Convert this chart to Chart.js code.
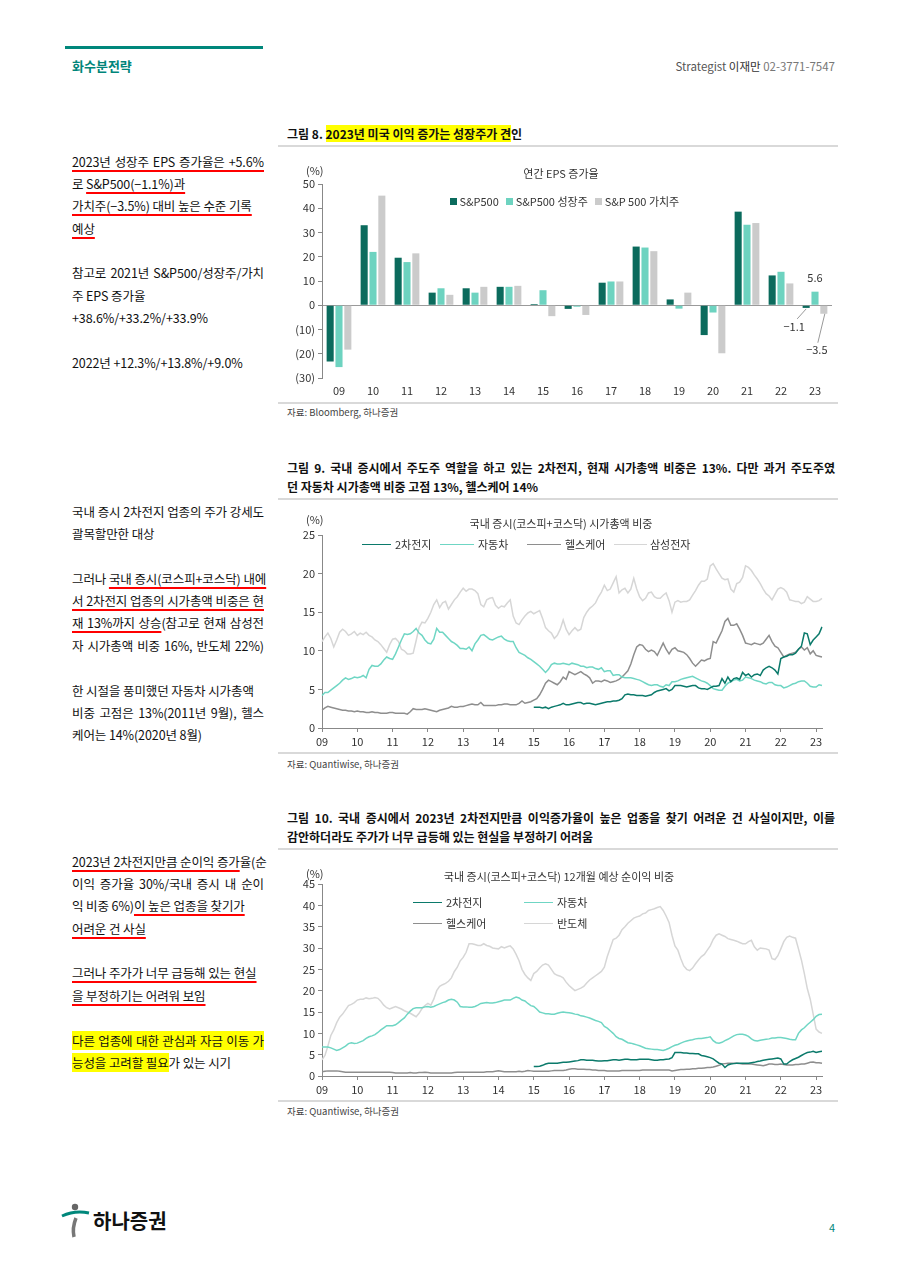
<!DOCTYPE html>
<html>
<head>
<meta charset="utf-8">
<script src="https://cdn.jsdelivr.net/npm/chart.js@4.4.0/dist/chart.umd.min.js"></script>
<style>
  body { margin: 0; background: #fff; }
  #page { position: relative; width: 900px; height: 1273px; background: #fff; overflow: hidden;
          font-family: 'Noto Sans CJK KR', sans-serif; color: #1a1a1a; }
  .a { position: absolute; white-space: nowrap; }
  .bar { position: absolute; background: #d9d9d9; }
  .ttl { font-size: 12px; font-weight: bold; line-height: 19px; color: #111; }
  .src { font-size: 9.5px; color: #444; }
  .ct { font-size: 11px; color: #333; transform: translateX(-50%); }
  .lg { font-size: 11px; color: #333; line-height: 14px; }
  .sq { display: inline-block; width: 7px; height: 7px; vertical-align: 1px; }
  .ln { position: absolute; height: 0; border-top: 1.6px solid; }
  .side { position: absolute; left: 72px; font-size: 12.5px; line-height: 22.4px; letter-spacing: -0.1px; color: #111; }
  .side div { white-space: nowrap; height: 22.4px; }
  .side .j { width: 192px; text-align: justify; text-align-last: justify; }
  .u { text-decoration: underline; text-decoration-color: #f00; text-decoration-thickness: 1.5px; text-underline-offset: 3px; }
  .h { background: #ffff00; }
  .box { position: absolute; }
</style>
</head>
<body>
<div id="page">
  <!-- header -->
  <div class="a" style="left:65px;top:46px;width:198px;height:3px;background:#00877b"></div>
  <div class="a" style="left:72px;top:57px;font-size:13px;font-weight:bold;color:#00857a;line-height:18px">화수분전략</div>
  <div class="a" style="right:65px;top:58px;font-size:11.5px;line-height:16px;color:#555">Strategist <span style="color:#333">이재만</span> <span style="color:#777">02-3771-7547</span></div>

  <!-- left notes -->
  <div class="side" style="top:150.5px">
    <div class="j"><span class="u">2023년 성장주 EPS 증가율은 +5.6%</span></div>
    <div>로 <span class="u">S&amp;P500(−1.1%)과</span></div>
    <div><span class="u">가치주(−3.5%) 대비 높은 수준 기록</span></div>
    <div><span class="u">예상</span></div>
    <div></div>
    <div class="j">참고로 2021년 S&amp;P500/성장주/가치</div>
    <div>주 EPS 증가율</div>
    <div>+38.6%/+33.2%/+33.9%</div>
    <div></div>
    <div>2022년 +12.3%/+13.8%/+9.0%</div>
  </div>
  <div class="side" style="top:500.5px">
    <div class="j">국내 증시 2차전지 업종의 주가 강세도</div>
    <div>괄목할만한 대상</div>
    <div></div>
    <div class="j">그러나 <span class="u">국내 증시(코스피+코스닥) 내에</span></div>
    <div class="j u">서 2차전지 업종의 시가총액 비중은 현</div>
    <div class="j"><span class="u">재 13%까지 상승</span>(참고로 현재 삼성전</div>
    <div class="j">자 시가총액 비중 16%, 반도체 22%)</div>
    <div></div>
    <div>한 시절을 풍미했던 자동차 시가총액</div>
    <div class="j">비중 고점은 13%(2011년 9월), 헬스</div>
    <div>케어는 14%(2020년 8월)</div>
  </div>
  <div class="side" style="top:850.5px">
    <div class="j"><span class="u">2023년 2차전지만큼 순이익 증가</span>율(순</div>
    <div class="j">이익 증가율 30%/국내 증시 내 순이</div>
    <div>익 비중 6%)<span class="u">이 높은 업종을 찾기가</span></div>
    <div><span class="u">어려운 건 사실</span></div>
    <div></div>
    <div><span class="u">그러나 주가가 너무 급등해 있는 현실</span></div>
    <div><span class="u">을 부정하기는 어려워 보임</span></div>
    <div></div>
    <div class="j"><span class="h">다른 업종에 대한 관심과 자금 이동 가</span></div>
    <div><span class="h">능성을 고려할 필요</span>가 있는 시기</div>
  </div>

  <!-- figure 8 -->
  <div class="a ttl" style="left:287px;top:124px">그림 8. <span class="h">2023년 미국 이익 증가는 성장주가 견</span>인</div>
  <div class="bar" style="left:278px;top:145px;width:560px;height:2px"></div>
  <div class="box" style="left:278px;top:150px;width:560px;height:252px"><canvas id="c8"></canvas></div>
  <div class="a lg" style="left:306px;top:163px">(%)</div>
  <div class="a ct" style="left:561px;top:165px">연간 EPS 증가율</div>
  <div class="a lg" style="left:450px;top:194px"><span class="sq" style="background:#0b6b5d"></span> S&amp;P500&nbsp;&nbsp; <span class="sq" style="background:#6dd3c0"></span> S&amp;P500 성장주&nbsp;&nbsp; <span class="sq" style="background:#cbcbcb"></span> S&amp;P 500 가치주</div>
  <div class="bar" style="left:278px;top:402px;width:560px;height:1.5px"></div>
  <div class="a src" style="left:287px;top:405px">자료: Bloomberg, 하나증권</div>

  <!-- figure 9 -->
  <div class="a ttl" style="left:287px;top:458px;width:548px;text-align:justify;text-align-last:justify">그림 9. 국내 증시에서 주도주 역할을 하고 있는 2차전지, 현재 시가총액 비중은 13%. 다만 과거 주도주였</div>
  <div class="a ttl" style="left:287px;top:477px">던 자동차 시가총액 비중 고점 13%, 헬스케어 14%</div>
  <div class="bar" style="left:278px;top:498px;width:560px;height:2px"></div>
  <div class="box" style="left:278px;top:505px;width:560px;height:247px"><canvas id="c9"></canvas></div>
  <div class="a lg" style="left:306px;top:512px">(%)</div>
  <div class="a ct" style="left:561px;top:515px">국내 증시(코스피+코스닥) 시가총액 비중</div>
  <div class="ln" style="left:362px;top:544px;width:29px;border-color:#0b7a6b"></div>
  <div class="a lg" style="left:395px;top:537px">2차전지</div>
  <div class="ln" style="left:440px;top:544px;width:34px;border-color:#6fd6c4"></div>
  <div class="a lg" style="left:478px;top:537px">자동차</div>
  <div class="ln" style="left:527px;top:544px;width:34px;border-color:#8e8e8e"></div>
  <div class="a lg" style="left:565px;top:537px">헬스케어</div>
  <div class="ln" style="left:614px;top:544px;width:33px;border-color:#d6d6d6"></div>
  <div class="a lg" style="left:650px;top:537px">삼성전자</div>
  <div class="bar" style="left:278px;top:752px;width:560px;height:1.5px"></div>
  <div class="a src" style="left:287px;top:757px">자료: Quantiwise, 하나증권</div>

  <!-- figure 10 -->
  <div class="a ttl" style="left:287px;top:808px;width:548px;text-align:justify;text-align-last:justify">그림 10. 국내 증시에서 2023년 2차전지만큼 이익증가율이 높은 업종을 찾기 어려운 건 사실이지만, 이를</div>
  <div class="a ttl" style="left:287px;top:827px">감안하더라도 주가가 너무 급등해 있는 현실을 부정하기 어려움</div>
  <div class="bar" style="left:278px;top:848px;width:560px;height:2px"></div>
  <div class="box" style="left:278px;top:855px;width:560px;height:245px"><canvas id="c10"></canvas></div>
  <div class="a lg" style="left:306px;top:866px">(%)</div>
  <div class="a ct" style="left:559px;top:868px">국내 증시(코스피+코스닥) 12개월 예상 순이익 비중</div>
  <div class="ln" style="left:413px;top:902px;width:29px;border-color:#0b7a6b"></div>
  <div class="a lg" style="left:446px;top:895px">2차전지</div>
  <div class="ln" style="left:524px;top:902px;width:29px;border-color:#6fd6c4"></div>
  <div class="a lg" style="left:557px;top:895px">자동차</div>
  <div class="ln" style="left:413px;top:923px;width:29px;border-color:#8e8e8e"></div>
  <div class="a lg" style="left:446px;top:916px">헬스케어</div>
  <div class="ln" style="left:524px;top:923px;width:29px;border-color:#d6d6d6"></div>
  <div class="a lg" style="left:557px;top:916px">반도체</div>
  <div class="bar" style="left:278px;top:1100px;width:560px;height:1.5px"></div>
  <div class="a src" style="left:287px;top:1104px">자료: Quantiwise, 하나증권</div>

  <!-- footer -->
  <svg class="a" style="left:61px;top:1203px" width="30" height="36" viewBox="0 0 30 36">
    <circle cx="14" cy="4" r="3.2" fill="#666"/>
    <path d="M1 13 Q14 7 28 10" stroke="#00877b" stroke-width="3" fill="none"/>
    <path d="M15 15 Q11 25 13 34" stroke="#777" stroke-width="3.5" fill="none"/>
  </svg>
  <div class="a" style="left:93px;top:1207px;font-size:20px;font-weight:bold;color:#111;line-height:28px">하나증권</div>
  <div class="a" style="left:829px;top:1219px;font-size:11px;color:#00877b">4</div>
</div>

<script>
Chart.defaults.font.family = "'Noto Sans CJK KR', sans-serif";
Chart.defaults.font.size = 11;
Chart.defaults.color = '#333';

// ---- figure 8: yearly EPS growth (%)
const years8 = ['09', '10', '11', '12', '13', '14', '15', '16', '17', '18', '19', '20', '21', '22', '23'];
const sp500 = [-23.2, 33.0, 19.6, 5.2, 7.0, 7.6, 0.5, -1.5, 9.3, 24.2, 2.4, -12.3, 38.6, 12.3, -1.1];
const growth = [-25.5, 22.0, 17.8, 7.0, 5.2, 7.6, 6.2, -0.6, 9.8, 23.8, -1.4, -3.0, 33.2, 13.8, 5.6];
const value = [-18.3, 45.2, 21.4, 4.3, 7.6, 8.0, -4.5, -4.0, 9.8, 22.3, 5.2, -19.8, 33.9, 9.0, -3.5];

// ---- figure 9: market cap weight (%), monthly from 2009-01 to 2023-03
const batt9 = Array(72).fill(null).concat([
  2.7, 2.7, 2.7, 2.6, 2.7, 2.5, 2.7, 2.8, 2.9, 3.0, 3.2, 3.0,
  3.0, 3.1, 3.2, 3.3, 3.3, 3.1, 3.2, 3.2, 3.1, 3.0, 3.1, 3.2,
  3.3, 3.4, 3.4, 3.5, 3.5, 3.6, 3.8, 4.3, 4.4, 4.3, 4.3, 4.2,
  4.2, 4.2, 4.1, 4.2, 4.3, 4.6, 4.8, 4.9, 5.0, 5.1, 4.8, 5.0,
  5.5, 5.5, 5.5, 5.4, 5.3, 5.4, 5.5, 5.5, 5.2, 5.1, 5.1, 5.0,
  5.2, 5.4, 5.4, 5.5, 6.4, 5.8, 6.6, 6.0, 6.4, 6.5, 6.3, 7.2,
  6.8, 7.0, 6.6, 6.9, 7.0, 6.8, 7.5, 7.8, 8.0, 7.8, 7.5, 7.0,
  9.0, 9.2, 9.3, 9.5, 9.5, 9.7, 10.2, 10.6, 12.3, 12.2, 10.8, 11.4,
  11.8, 12.2, 13.1
]);
const auto9 = [
  4.2, 4.6, 4.6, 4.9, 5.2, 5.5, 5.8, 6.2, 6.5, 6.3, 6.4, 6.6,
  6.5, 6.6, 6.8, 6.5, 7.6, 8.1, 8.0, 8.0, 8.3, 8.8, 9.2, 9.0,
  8.9, 9.6, 10.5, 11.4, 12.2, 12.1, 12.2, 12.5, 12.9, 12.3, 12.0, 11.4,
  11.0, 10.9, 11.5, 12.9, 12.4, 12.4, 12.0, 11.6, 11.2, 11.0, 10.7, 10.3,
  10.3, 10.2, 10.5, 10.0, 10.9, 11.4, 12.0, 12.1, 11.8, 11.5, 11.4, 11.6,
  11.8, 11.9, 11.5, 11.3, 11.2, 11.2, 10.4, 9.8, 9.6, 9.4, 9.1, 8.9,
  8.6, 8.3, 8.0, 7.6, 7.2, 7.6, 8.2, 8.4, 8.3, 8.3, 8.4, 8.3,
  8.2, 8.4, 8.3, 8.2, 8.0, 8.0, 7.8, 7.9, 7.9, 7.7, 7.6, 7.8,
  7.3, 7.4, 7.4, 6.8, 6.9, 6.9, 6.6, 6.5, 6.5, 6.5, 6.4, 6.3,
  6.2, 6.0, 5.8, 5.6, 5.5, 5.6, 5.6, 5.4, 5.3, 5.6, 5.5, 6.0,
  6.0, 6.1, 6.3, 6.4, 6.5, 6.6, 6.7, 6.5, 6.3, 6.1, 6.0, 5.8,
  5.5, 5.1, 5.0, 4.9, 4.9, 5.4, 5.8, 6.0, 6.2, 6.3, 6.1, 6.2,
  6.6, 6.5, 6.4, 6.2, 6.1, 6.0, 5.8, 5.7, 5.9, 5.9, 5.6, 5.5,
  5.5, 5.2, 5.3, 5.5, 5.7, 5.8, 6.0, 6.1, 6.1, 5.8, 5.4, 5.3,
  5.3, 5.6, 5.5
];
const health9 = [
  2.3, 2.6, 2.8, 2.7, 2.6, 2.5, 2.4, 2.3, 2.3, 2.2, 2.2, 2.1,
  2.2, 2.1, 2.1, 2.0, 2.0, 2.1, 2.0, 2.0, 1.9, 1.9, 1.9, 2.0,
  2.0, 1.9, 1.9, 1.9, 1.9, 1.8, 2.1, 2.5, 2.4, 2.4, 2.4, 2.5,
  2.4, 2.3, 2.2, 2.1, 2.3, 2.4, 2.5, 2.6, 2.8, 2.7, 2.7, 2.8,
  2.8, 2.9, 3.0, 3.1, 3.0, 3.0, 3.3, 2.9, 2.9, 2.9, 2.9, 2.9,
  3.0, 3.0, 3.1, 3.1, 3.0, 3.0, 3.0, 3.2, 3.5, 3.2, 3.3, 3.4,
  3.6, 3.8, 4.3, 5.0, 5.8, 6.2, 6.0, 5.8, 5.6, 6.0, 6.6, 6.3,
  7.3, 7.1, 6.9, 7.1, 7.3, 7.0, 6.8, 6.5, 5.8, 6.1, 6.1, 6.0,
  6.2, 6.1, 5.9, 6.0, 6.1, 6.3, 6.6, 7.0, 7.4, 8.3, 9.5, 10.5,
  10.8, 10.7, 10.2, 9.9, 10.1, 9.9, 9.4, 10.2, 11.0, 10.2, 9.6, 10.2,
  10.4, 10.0, 9.9, 9.8, 9.5, 9.0, 8.4, 8.0, 8.4, 8.8, 8.7, 8.9,
  9.0, 11.2, 11.0, 11.8, 12.6, 13.8, 14.2, 13.3, 13.3, 13.5, 12.8, 12.0,
  11.0, 10.9, 10.8, 11.0, 10.9, 10.8, 11.0, 11.5, 12.0, 11.2, 10.6, 10.4,
  9.8, 9.2, 9.4, 9.6, 9.7, 9.8, 10.2, 10.5, 10.1, 10.4, 9.6, 10.0,
  9.4, 9.3, 9.2
];
const samsung9 = [
  11.2, 11.8, 12.3, 11.6, 10.5, 11.4, 12.4, 12.8, 12.5, 12.0, 12.2, 12.5,
  12.0, 12.3, 12.1, 12.4, 12.0, 11.8, 11.4, 11.2, 10.8, 10.3, 9.8, 10.8,
  11.5, 11.6, 11.2, 10.2, 10.0, 9.6, 9.6, 9.7, 11.3, 13.0, 13.7, 13.6,
  14.2, 15.0, 16.0, 16.6, 15.6, 16.2, 16.4, 15.4, 16.0, 16.6, 17.0, 17.6,
  18.1, 17.7, 18.0, 18.0, 17.8, 17.4, 16.0, 15.7, 16.6, 16.8, 16.9, 15.9,
  15.5, 15.8, 15.7, 16.2, 16.6, 14.5, 13.6, 13.4, 14.0, 14.5, 14.9, 15.1,
  14.8, 15.0, 15.2, 14.2, 13.0, 12.6, 12.3, 11.6, 12.0, 12.8, 14.0, 12.8,
  12.1, 12.6, 13.0, 12.6, 12.8, 14.3, 15.0, 15.5, 15.8, 16.2, 17.0, 17.6,
  18.5, 17.8, 18.0, 18.8, 19.6, 17.5, 17.9, 18.1, 17.5, 18.0, 19.4, 18.0,
  17.0, 16.5, 16.8, 17.5, 17.6, 17.0, 16.8, 16.8, 17.2, 17.5, 16.5, 15.0,
  16.3, 16.5, 16.3, 16.4, 16.4, 16.6, 17.2, 17.8, 18.5, 19.0, 19.0, 19.3,
  21.0, 21.3, 20.6, 20.0, 19.4, 19.2, 19.3, 18.0, 17.6, 18.7, 18.9, 19.5,
  21.0, 20.8, 20.4, 19.8, 19.3, 18.7, 18.0, 17.4, 17.1, 16.6, 17.3, 18.0,
  18.2, 18.0, 17.6, 16.6, 16.5, 16.4, 16.4, 16.1, 16.3, 17.0, 16.7, 16.4,
  16.4, 16.5, 16.8
];

// ---- figure 10: 12m forward net profit weight (%)
const batt10 = Array(72).fill(null).concat([
  2.2, 2.2, 2.3, 2.5, 2.8, 3.0, 3.0, 3.0, 3.0, 3.1, 3.2, 3.2,
  3.3, 3.4, 3.5, 3.6, 3.8, 3.8, 3.7, 3.7, 3.7, 3.6, 3.5, 3.5,
  3.6, 3.6, 3.7, 3.8, 3.8, 3.7, 3.8, 3.9, 3.9, 3.8, 3.8, 3.8,
  3.9, 3.9, 3.9, 3.9, 3.8, 3.7, 3.7, 3.8, 3.8, 3.9, 4.0, 4.3,
  5.5, 5.5, 5.5, 5.4, 5.4, 5.3, 5.3, 5.2, 5.2, 4.8, 4.7, 4.5,
  4.3, 4.0, 3.5, 3.0, 2.8, 2.0, 2.6, 2.8, 2.9, 3.0, 3.0, 3.0,
  3.0, 3.0, 3.1, 3.2, 3.4, 3.5, 3.7, 3.8, 3.9, 4.0, 4.1, 4.2,
  4.0, 2.8, 2.8, 3.4, 3.8, 4.1, 4.4, 4.8, 5.2, 5.5, 5.6, 5.8,
  5.5, 5.7, 5.8
]);
const auto10 = [
  6.8, 6.8, 6.8, 6.6, 6.3, 6.0, 6.2, 6.6, 7.0, 7.6, 7.8, 7.6,
  7.7, 8.0, 8.3, 8.8, 9.2, 9.4, 9.7, 10.2, 10.8, 11.3, 11.8, 11.8,
  11.8, 12.0, 12.5, 13.1, 13.6, 14.5, 15.2, 15.8, 16.0, 16.0, 16.0, 16.2,
  16.3, 16.1, 16.3, 16.6, 16.9, 17.2, 17.4, 17.8, 18.0, 17.8, 17.3, 16.3,
  16.2, 16.2, 16.1, 16.1, 16.3, 16.6, 17.0, 17.1, 17.2, 17.1, 17.1, 17.2,
  17.4, 17.6, 17.8, 17.8, 17.8, 18.2, 18.5, 18.3, 17.8, 17.6, 17.0, 16.5,
  16.3, 15.7, 15.0, 14.8, 14.6, 14.6, 14.5, 14.5, 14.7, 14.9, 15.0, 14.9,
  14.8, 14.7, 14.5, 14.4, 14.1, 14.0, 13.8, 13.6, 13.3, 13.0, 12.8, 12.5,
  11.6, 11.2, 10.6, 10.0, 9.2, 8.8, 8.6, 8.2, 7.8, 7.7, 7.5, 7.3,
  7.1, 6.8, 6.5, 6.4, 6.3, 6.2, 6.2, 6.1, 6.0, 6.2, 6.5, 6.9,
  7.2, 7.4, 7.7, 8.0, 8.2, 8.4, 8.5, 8.7, 8.8, 8.8, 8.9, 9.0,
  9.2, 8.3, 7.8, 7.7, 7.9, 8.3, 8.6, 9.0, 9.4, 9.7, 9.8, 9.8,
  9.6, 9.3, 8.7, 8.3, 8.2, 8.4, 8.5, 8.6, 8.7, 8.9, 8.9, 9.0,
  9.0, 8.9, 8.8, 8.6, 8.5, 8.5, 10.0, 10.8, 11.3, 12.0, 12.6, 13.2,
  14.0, 14.4, 14.5
];
const health10 = [
  1.0, 1.1, 1.2, 1.2, 1.2, 1.2, 1.1, 1.0, 0.9, 0.9, 0.9, 0.9,
  0.9, 0.9, 0.9, 0.9, 0.9, 0.9, 0.9, 0.9, 0.9, 0.9, 0.9, 0.9,
  0.8, 0.7, 0.7, 0.7, 0.7, 0.7, 0.8, 0.7, 0.7, 0.8, 0.8, 0.9,
  0.8, 0.7, 0.7, 0.7, 0.7, 0.7, 0.7, 0.7, 0.7, 0.8, 0.9, 0.9,
  0.9, 0.9, 0.9, 0.9, 0.9, 0.9, 0.9, 0.9, 1.0, 1.0, 1.0, 1.1,
  1.2, 1.1, 1.0, 1.0, 1.0, 1.0, 1.0, 1.1, 1.0, 1.1, 1.3, 1.2,
  1.1, 1.1, 1.1, 1.1, 1.1, 1.1, 1.2, 1.3, 1.3, 1.3, 1.3, 1.4,
  1.6, 1.7, 1.7, 1.6, 1.6, 1.6, 1.5, 1.5, 1.4, 1.4, 1.3, 1.3,
  1.3, 1.2, 1.2, 1.2, 1.2, 1.2, 1.3, 1.3, 1.3, 1.3, 1.3, 1.3,
  1.3, 1.4, 1.4, 1.4, 1.4, 1.4, 1.4, 1.4, 1.4, 1.4, 1.4, 1.2,
  1.3, 1.4, 1.5, 1.5, 1.6, 1.6, 1.7, 1.7, 1.8, 1.8, 1.9, 2.0,
  2.0, 2.1, 2.3, 2.5, 2.8, 2.9, 3.0, 3.0, 3.0, 3.0, 2.9, 2.8,
  2.8, 2.8, 2.8, 2.7, 2.6, 2.5, 2.4, 2.6, 2.8, 2.8, 2.7, 2.7,
  2.8, 2.7, 2.6, 2.6, 2.6, 2.7, 2.7, 2.8, 2.8, 3.0, 3.2, 3.3,
  3.1, 3.1, 3.0
];
const semi10 = [
  3.8, 4.8, 7.0, 9.5, 10.8, 12.5, 13.8, 14.5, 15.5, 16.5, 16.8, 17.2,
  17.8, 18.0, 18.0, 18.3, 18.1, 18.2, 18.4, 18.2, 17.5, 16.6, 16.0, 15.7,
  16.0, 16.3, 16.0, 15.7, 15.3, 15.0, 14.7, 14.3, 13.9, 14.7, 15.8, 16.5,
  17.0, 16.6, 18.0, 20.0, 21.0, 21.4, 21.7, 22.2, 23.0, 24.5, 25.5, 27.0,
  27.8, 29.0, 31.0, 31.0, 30.8, 30.6, 30.6, 31.0, 30.6, 30.4, 30.0, 29.9,
  29.8, 30.3, 30.0, 30.3, 30.5, 29.8, 28.5, 27.0, 25.0, 23.8, 23.0, 22.4,
  24.0, 24.5, 25.3, 26.0, 26.3, 26.0, 25.0, 24.0, 23.6, 23.4, 23.0, 22.0,
  21.2, 20.6, 20.0, 20.3, 20.6, 21.0, 21.8, 22.5, 23.0, 23.5, 24.0, 24.5,
  25.5, 28.0, 30.0, 32.0, 32.3, 33.0, 34.3, 35.0, 35.8, 36.4, 37.0, 37.3,
  37.5, 38.0, 38.2, 38.8, 39.0, 39.2, 39.5, 39.7, 38.8, 37.5, 36.0, 33.0,
  30.5, 29.5, 27.5, 25.8, 25.0, 24.7, 25.3, 26.3, 27.2, 28.0, 28.5, 29.5,
  30.5, 32.0, 33.0, 33.3, 33.0, 32.7, 32.2, 32.0, 31.8, 31.6, 31.3, 31.0,
  31.0, 31.5, 31.8, 30.3, 29.5, 30.0, 29.9, 29.8, 29.5, 27.5, 27.3, 28.2,
  29.8, 31.5, 32.5, 32.8, 32.5, 32.3, 29.8, 27.2, 24.0, 20.5, 18.0, 14.5,
  11.0, 10.3, 10.0
];

// month labels 09.01 ... 23.03
const months = [];
for (let y = 2009; y <= 2023; y++) {
  for (let m = 1; m <= 12; m++) {
    if (y === 2023 && m > 3) break;
    months.push(String(y).slice(2) + '.' + String(m).padStart(2, '0'));
  }
}

const C_DARK = '#0b7a6b', C_TEAL = '#6fd6c4', C_GREY = '#8e8e8e', C_LIGHT = '#d6d6d6';

const fmt = v => (v < 0 ? '\u2212' : '') + Math.abs(v).toFixed(1);

// value labels for the 2023 bars
const labels8 = {
  id: 'labels8',
  afterDatasetsDraw(chart) {
    const ctx = chart.ctx;
    const i = years8.length - 1;
    const b0 = chart.getDatasetMeta(0).data[i];
    const b1 = chart.getDatasetMeta(1).data[i];
    const b2 = chart.getDatasetMeta(2).data[i];
    ctx.save();
    ctx.font = "11px 'Noto Sans CJK KR', sans-serif";
    ctx.fillStyle = '#333';
    ctx.textAlign = 'center';
    ctx.textBaseline = 'middle';
    ctx.fillText(fmt(growth[i]), b1.x, b1.y - 14);
    ctx.strokeStyle = '#999';
    ctx.lineWidth = 1;
    ctx.beginPath();
    ctx.moveTo(b0.x, b0.y + 1);
    ctx.lineTo(b0.x - 9, b0.y + 11);
    ctx.moveTo(b2.x + 1, b2.y);
    ctx.lineTo(b2.x - 6, b2.y + 29);
    ctx.stroke();
    ctx.fillText(fmt(sp500[i]), b0.x - 12, b0.y + 19);
    ctx.fillText(fmt(value[i]), b2.x - 7, b2.y + 36);
    ctx.restore();
  }
};

new Chart(document.getElementById('c8'), {
  type: 'bar',
  data: {
    labels: years8,
    datasets: [
      { label: 'S&P500', data: sp500, backgroundColor: '#0b6b5d' },
      { label: 'S&P500 성장주', data: growth, backgroundColor: '#6dd3c0' },
      { label: 'S&P 500 가치주', data: value, backgroundColor: '#cbcbcb' },
    ],
  },
  options: {
    responsive: true,
    maintainAspectRatio: false,
    animation: false,
    categoryPercentage: 0.78,
    barPercentage: 0.8,
    layout: { padding: { top: 34, right: 6, left: 0, bottom: 0 } },
    plugins: { legend: { display: false }, tooltip: { enabled: false } },
    scales: {
      x: {
        grid: { display: false, drawTicks: false },
        border: { display: false },
        ticks: { padding: 6 },
        afterFit: s => { s.height = 24; },
      },
      y: {
        min: -30,
        max: 50,
        ticks: { stepSize: 10, padding: 3, callback: v => (v < 0 ? '(' + -v + ')' : v) },
        grid: {
          color: c => (c.tick && c.tick.value === 0 ? '#9a9a9a' : 'rgba(0,0,0,0)'),
          tickColor: '#888',
          tickLength: 4,
        },
        border: { color: '#888' },
        afterFit: s => { s.width = 44; },
      },
    },
  },
  plugins: [labels8],
});

function lineChart(id, sets, max, pad) {
  return new Chart(document.getElementById(id), {
    type: 'line',
    data: {
      labels: months,
      datasets: sets.map(([label, data, color]) => ({
        label, data, borderColor: color, borderWidth: 1.5, pointRadius: 0, tension: 0, fill: false,
      })),
    },
    options: {
      responsive: true,
      maintainAspectRatio: false,
      animation: false,
      layout: { padding: { top: pad, right: 16, left: 0, bottom: 0 } },
      plugins: { legend: { display: false }, tooltip: { enabled: false } },
      scales: {
        x: {
          offset: false,
          ticks: {
            autoSkip: false,
            maxRotation: 0,
            padding: 3,
            callback: (v, i) => (i % 12 === 0 ? months[i].slice(0, 2) : null),
          },
          grid: { drawOnChartArea: false, color: '#888', tickLength: 4 },
          border: { color: '#888' },
          afterFit: s => { s.height = 24; },
        },
        y: {
          min: 0,
          max: max,
          ticks: { stepSize: 5, padding: 3 },
          grid: { drawOnChartArea: false, color: '#888', tickLength: 4 },
          border: { color: '#888' },
          afterFit: s => { s.width = 44; },
        },
      },
    },
  });
}

lineChart('c9', [
  ['2차전지', batt9, C_DARK],
  ['자동차', auto9, C_TEAL],
  ['헬스케어', health9, C_GREY],
  ['삼성전자', samsung9, C_LIGHT],
], 25, 30);

lineChart('c10', [
  ['2차전지', batt10, C_DARK],
  ['자동차', auto10, C_TEAL],
  ['헬스케어', health10, C_GREY],
  ['반도체', semi10, C_LIGHT],
], 45, 29);
</script>
</body>
</html>
